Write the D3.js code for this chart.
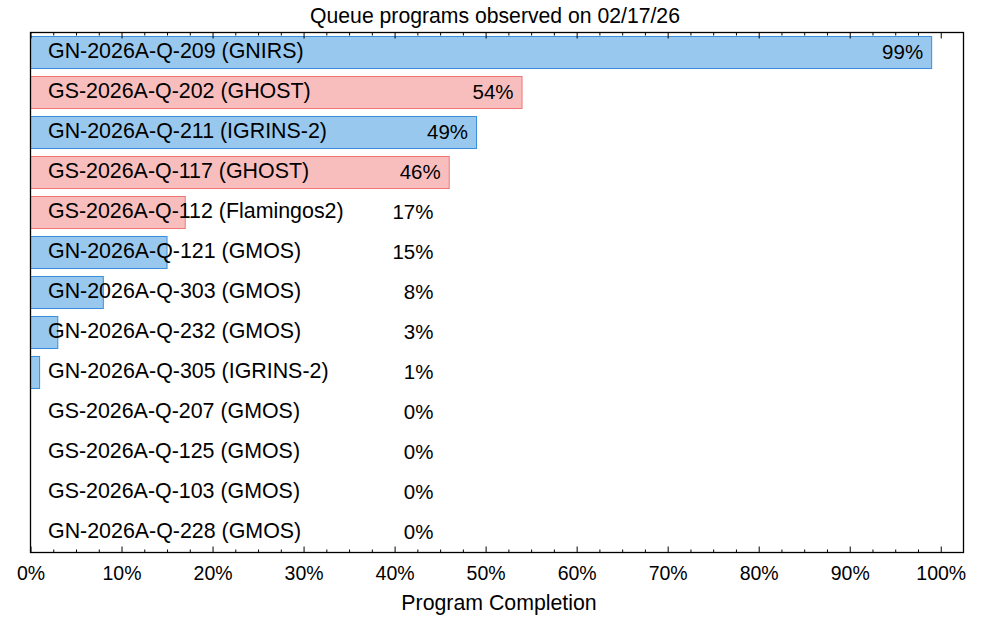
<!DOCTYPE html>
<html><head><meta charset="utf-8">
<script src="https://cdn.jsdelivr.net/npm/d3@7"></script>
<style>body{margin:0;background:#fff}svg{display:block;font-family:"Liberation Sans",Arial,sans-serif}</style>
</head><body><svg id="c" width="1000" height="620"></svg>
<script>
const programs = ["GN-2026A-Q-209","GS-2026A-Q-202","GN-2026A-Q-211","GS-2026A-Q-117","GS-2026A-Q-112","GN-2026A-Q-121","GN-2026A-Q-303","GN-2026A-Q-232","GN-2026A-Q-305","GS-2026A-Q-207","GS-2026A-Q-125","GS-2026A-Q-103","GN-2026A-Q-228"];
const instruments = ["GNIRS","GHOST","IGRINS-2","GHOST","Flamingos2","GMOS","GMOS","GMOS","IGRINS-2","GMOS","GMOS","GMOS","GMOS"];
const completion = [99,54,49,46,17,15,8,3,1,0,0,0,0];
const xTicks = [0,10,20,30,40,50,60,70,80,90,100];
const titleText = "Queue programs observed on 02/17/26";
const xLabel = "Program Completion";

const rows = programs.map((p,i)=>({p, inst:instruments[i], v:completion[i], site:p.slice(0,2)}));
const svg = d3.select("#c");
const L=30.5, R=963.5, T=32.5, B=552.5;
const x = d3.scaleLinear().domain([0,102.5]).range([L,R]);
const y = d3.scaleBand().domain(programs).range([T-0.5,B-0.5]).paddingInner(0.2).paddingOuter(0.1);
const fill = {GN:"#99c8ee", GS:"#f8bebe"};
const stroke = {GN:"#3a8fdd", GS:"#f07676"};

svg.append("g").selectAll("rect").data(rows.filter(d=>d.v>0)).join("rect")
  .attr("x", x(0)).attr("y", d=>y(d.p)+0.5)
  .attr("width", d=>x(d.v)-x(0)).attr("height", y.bandwidth())
  .attr("fill", d=>fill[d.site]).attr("stroke", d=>stroke[d.site]).attr("stroke-width",1);

// program labels
svg.append("g").selectAll("text").data(rows).join("text")
  .attr("x", 48).attr("y", d=>y(d.p)+y.bandwidth()/2+5.9)
  .attr("font-size", 21.4).attr("fill","#000")
  .text(d=>`${d.p} (${d.inst})`);

// value labels
svg.append("g").selectAll("text").data(rows).join("text")
  .attr("x", d=>Math.max(x(d.v)-8.5, 433.5)).attr("y", d=>y(d.p)+y.bandwidth()/2+6.6)
  .attr("text-anchor","end").attr("font-size", 20.5).attr("fill","#000")
  .text(d=>`${d.v}%`);

// frame
svg.append("rect").attr("x",L).attr("y",T).attr("width",R-L).attr("height",B-T)
  .attr("fill","none").attr("stroke","#000").attr("stroke-width",1.3);

// axes with inward ticks
const minor = d3.range(0,101,2.5).filter(v=>v%10!==0);
const bottom = d3.axisBottom(x).tickValues(xTicks).tickSize(-6).tickFormat(d=>d+"%").tickPadding(14);
const gb = svg.append("g").attr("transform",`translate(0,${B})`).call(bottom);
gb.select(".domain").remove();
gb.selectAll("text").attr("font-size",19.5).attr("fill","#000").attr("font-family","Liberation Sans, Arial, sans-serif").attr("dy","0.71em");
gb.selectAll("line").attr("stroke","#000");
const gbm = svg.append("g").attr("transform",`translate(0,${B})`).call(d3.axisBottom(x).tickValues(minor).tickSize(-3).tickFormat(""));
gbm.select(".domain").remove(); gbm.selectAll("line").attr("stroke","#000");
const gt = svg.append("g").attr("transform",`translate(0,${T})`).call(d3.axisTop(x).tickValues(xTicks).tickSize(-6).tickFormat(""));
gt.select(".domain").remove(); gt.selectAll("line").attr("stroke","#000");
const gtm = svg.append("g").attr("transform",`translate(0,${T})`).call(d3.axisTop(x).tickValues(minor).tickSize(-3).tickFormat(""));
gtm.select(".domain").remove(); gtm.selectAll("line").attr("stroke","#000");

svg.append("text").attr("x",(L+R)/2-2).attr("y",23.3).attr("text-anchor","middle").attr("font-size",21.2).text(titleText);
svg.append("text").attr("x",(L+R)/2+2).attr("y",610).attr("text-anchor","middle").attr("font-size",21.3).text(xLabel);
</script></body></html>
